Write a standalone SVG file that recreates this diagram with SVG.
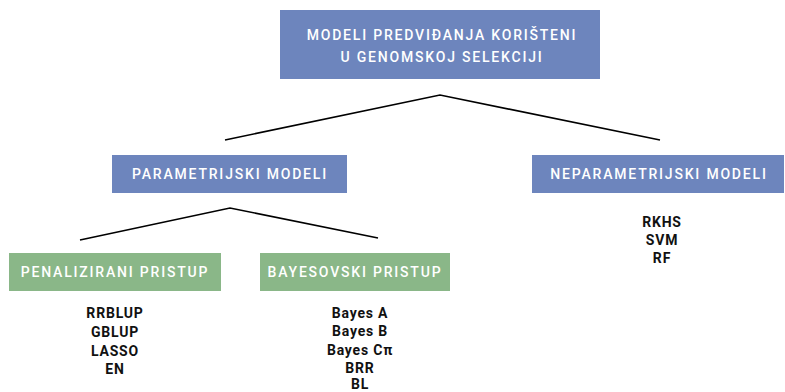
<svg xmlns="http://www.w3.org/2000/svg" width="785" height="392" viewBox="0 0 785 392">
<style>
.blue{fill:#6d85bd}
.green{fill:#8ab788}
.hdr{font-family:Roboto,"Noto Sans",sans-serif;font-weight:500;font-size:14px;fill:#ffffff;letter-spacing:1.8px;text-anchor:middle;dominant-baseline:central}
.item{font-family:Roboto,"Noto Sans",sans-serif;font-weight:700;font-size:14px;fill:#111111;text-anchor:middle;dominant-baseline:central;letter-spacing:0.8px}
.conn{fill:none;stroke:#000;stroke-width:1.6}
</style>
<rect width="785" height="392" fill="#ffffff"/>
<g id="connectors">
<polyline class="conn" points="225,140 440,95 660,140"/>
<polyline class="conn" points="80,240 230,208 378,238"/>
</g>
<g id="root">
<rect class="blue" x="280" y="10" width="320" height="69"/>
<text class="hdr" x="442" y="35">MODELI PREDVIĐANJA KORIŠTENI</text>
<text class="hdr" x="442" y="57">U GENOMSKOJ SELEKCIJI</text>
</g>
<g id="parametrijski">
<rect class="blue" x="112" y="155" width="235" height="38"/>
<text class="hdr" x="230" y="174">PARAMETRIJSKI MODELI</text>
</g>
<g id="neparametrijski">
<rect class="blue" x="532" y="155" width="252" height="38"/>
<text class="hdr" x="659" y="174">NEPARAMETRIJSKI MODELI</text>
<text class="item" x="662" y="222">RKHS</text>
<text class="item" x="662" y="240">SVM</text>
<text class="item" x="662" y="258">RF</text>
</g>
<g id="penalizirani">
<rect class="green" x="9" y="253" width="212" height="38"/>
<text class="hdr" x="115" y="272">PENALIZIRANI PRISTUP</text>
<text class="item" x="115" y="313">RRBLUP</text>
<text class="item" x="115" y="332">GBLUP</text>
<text class="item" x="115" y="351">LASSO</text>
<text class="item" x="115" y="369">EN</text>
</g>
<g id="bayesovski">
<rect class="green" x="260" y="253" width="190" height="38"/>
<text class="hdr" x="355" y="272">BAYESOVSKI PRISTUP</text>
<text class="item" x="360" y="313">Bayes A</text>
<text class="item" x="360" y="331">Bayes B</text>
<text class="item" x="360" y="350">Bayes Cπ</text>
<text class="item" x="360" y="368">BRR</text>
<text class="item" x="360" y="384">BL</text>
</g>
</svg>
